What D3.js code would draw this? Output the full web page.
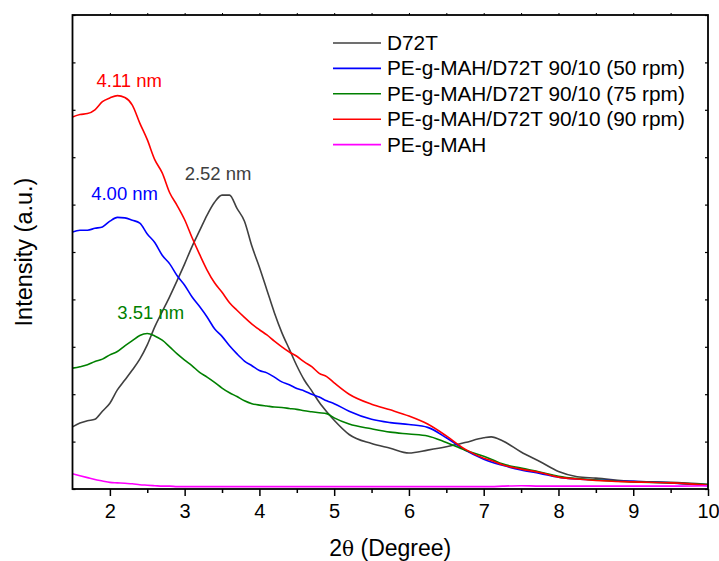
<!DOCTYPE html>
<html>
<head>
<meta charset="utf-8">
<script src="https://cdn.jsdelivr.net/npm/d3@7"></script>
<style>
  body { margin: 0; background: #fff; }
  text { font-family: "Liberation Sans", Arial, sans-serif; }
</style>
</head>
<body>
<svg id="chart" width="719" height="561"></svg>
<script>
// 2-theta grid (degrees)
var twoTheta = [1.5, 1.6, 1.7, 1.8, 1.9, 2.0, 2.1, 2.2, 2.3, 2.4, 2.5, 2.6, 2.7, 2.8, 2.9,
  3.0, 3.1, 3.2, 3.3, 3.4, 3.5, 3.6, 3.7, 3.8, 3.9, 4.0, 4.1, 4.2, 4.3, 4.4, 4.5, 4.6,
  4.7, 4.8, 4.9, 5.0, 5.2, 5.5, 5.75, 6.0, 6.25, 6.5, 6.75, 7.0, 7.1, 7.25, 7.5, 7.75,
  8.0, 8.25, 8.5, 9.0, 9.5, 10.0];

// intensities (a.u.)
var d72t = [1.31, 1.39, 1.44, 1.47, 1.64, 1.81, 2.09, 2.3, 2.51, 2.74, 3.04, 3.42, 3.74, 4.06, 4.4,
  4.75, 5.12, 5.45, 5.78, 6.05, 6.2, 6.2, 5.92, 5.65, 5.12, 4.68, 4.2, 3.72, 3.3, 2.95, 2.6, 2.3,
  2.07, 1.83, 1.63, 1.45, 1.15, 0.96, 0.86, 0.76, 0.82, 0.89, 0.98, 1.08, 1.1, 1.02, 0.78, 0.58,
  0.37, 0.26, 0.23, 0.16, 0.14, 0.1];
var rpm50 = [5.42, 5.46, 5.46, 5.5, 5.53, 5.65, 5.73, 5.72, 5.67, 5.61, 5.38, 5.2, 4.93, 4.75, 4.5,
  4.3, 4.05, 3.85, 3.63, 3.38, 3.22, 3.02, 2.85, 2.7, 2.6, 2.5, 2.45, 2.36, 2.26, 2.2, 2.12, 2.07,
  2.0, 1.94, 1.86, 1.8, 1.64, 1.47, 1.4, 1.36, 1.3, 1.08, 0.82, 0.63, 0.57, 0.5, 0.4, 0.33,
  0.25, 0.21, 0.19, 0.16, 0.13, 0.07];
var rpm75 = [2.55, 2.58, 2.62, 2.69, 2.74, 2.83, 2.9, 3.02, 3.13, 3.24, 3.28, 3.23, 3.14, 3.0, 2.85,
  2.72, 2.6, 2.46, 2.36, 2.25, 2.13, 2.03, 1.95, 1.86, 1.8, 1.77, 1.75, 1.73, 1.72, 1.7, 1.68, 1.65,
  1.63, 1.61, 1.59, 1.5, 1.37, 1.27, 1.2, 1.16, 1.12, 0.98, 0.82, 0.69, 0.63, 0.53, 0.44, 0.36,
  0.27, 0.22, 0.19, 0.15, 0.13, 0.09];
var rpm90 = [7.85, 7.9, 7.92, 8.0, 8.17, 8.25, 8.3, 8.26, 8.1, 7.72, 7.37, 6.95, 6.67, 6.25, 5.98,
  5.68, 5.3, 4.95, 4.62, 4.35, 4.15, 3.93, 3.77, 3.62, 3.48, 3.36, 3.25, 3.12, 3.0, 2.89, 2.8, 2.68,
  2.58, 2.44, 2.37, 2.24, 2.0, 1.79, 1.67, 1.54, 1.37, 1.12, 0.84, 0.65, 0.6, 0.51, 0.42, 0.35,
  0.25, 0.21, 0.18, 0.15, 0.13, 0.08];
var peMah = [0.32, 0.28, 0.24, 0.2, 0.17, 0.14, 0.13, 0.12, 0.11, 0.09, 0.08, 0.07, 0.06, 0.06, 0.05,
  0.05, 0.05, 0.05, 0.05, 0.05, 0.05, 0.05, 0.05, 0.05, 0.05, 0.05, 0.05, 0.05, 0.05, 0.05, 0.05, 0.05,
  0.05, 0.05, 0.05, 0.05, 0.05, 0.05, 0.05, 0.05, 0.05, 0.05, 0.05, 0.05, 0.05, 0.06, 0.07, 0.06,
  0.06, 0.06, 0.06, 0.06, 0.06, 0.07];

var seriesNames = ['D72T', 'PE-g-MAH/D72T 90/10 (50 rpm)', 'PE-g-MAH/D72T 90/10 (75 rpm)',
  'PE-g-MAH/D72T 90/10 (90 rpm)', 'PE-g-MAH'];
var seriesValues = [d72t, rpm50, rpm75, rpm90, peMah];
var seriesColors = ['#404040', '#0000ff', '#008000', '#ff0000', '#ff00ff'];

// peak annotations: text, x (2theta), y (a.u.), colour index
var peakLabels = ['4.11 nm', '4.00 nm', '2.52 nm', '3.51 nm'];
var peakX = [1.82, 1.75, 3.0, 2.1];
var peakY = [8.48, 6.1, 6.52, 3.59];
var peakColor = [3, 1, 0, 2];

var xTicks = [2, 3, 4, 5, 6, 7, 8, 9, 10];

var margin = {left: 72.5, top: 15, right: 11, bottom: 72};
var width = 719 - margin.left - margin.right;
var height = 561 - margin.top - margin.bottom;

var svg = d3.select('#chart');
var g = svg.append('g').attr('transform', 'translate(' + margin.left + ',' + margin.top + ')');

var x = d3.scaleLinear().domain([1.5, 10]).range([0, width]);
var y = d3.scaleLinear().domain([0, 10]).range([height, 0]);

var line = d3.line()
  .x(function(d) { return x(d[0]); })
  .y(function(d) { return y(d[1]); })
  .curve(d3.curveMonotoneX);

seriesValues.forEach(function(vals, i) {
  g.append('path')
    .datum(d3.zip(twoTheta, vals))
    .attr('fill', 'none')
    .attr('stroke', seriesColors[i])
    .attr('stroke-width', 1.6)
    .attr('stroke-linejoin', 'round')
    .attr('d', line);
});

// frame
g.append('rect')
  .attr('width', width).attr('height', height)
  .attr('fill', 'none').attr('stroke', '#000').attr('stroke-width', 1.8);

// bottom axis, major + minor
var bottomAxis = g.append('g').attr('transform', 'translate(0,' + height + ')');
bottomAxis.call(d3.axisBottom(x).tickValues(xTicks).tickSize(7).tickPadding(8).tickFormat(d3.format('d')));
bottomAxis.append('g')
  .call(d3.axisBottom(x).tickValues(d3.range(2.5, 10, 1)).tickSize(4).tickFormat(''));
bottomAxis.selectAll('.domain').remove();
bottomAxis.selectAll('line').attr('stroke', '#000').attr('stroke-width', 1.5);
bottomAxis.selectAll('text')
  .attr('font-size', 20)
  .attr('font-family', '"Liberation Sans", Arial, sans-serif')
  .attr('fill', '#000');

// top ticks (tiny, outward)
var topAxis = g.append('g');
topAxis.call(d3.axisTop(x).tickValues(d3.range(2, 10, 0.5)).tickSize(2).tickFormat(''));
topAxis.selectAll('.domain').remove();
topAxis.selectAll('line').attr('stroke', '#000');

// left and right inward ticks, no labels
var leftAxis = g.append('g');
leftAxis.call(d3.axisRight(y).ticks(10).tickSize(3).tickFormat(''));
leftAxis.selectAll('.domain').remove();
leftAxis.selectAll('line').attr('stroke', '#000').attr('stroke-width', 1.2);

var rightAxis = g.append('g').attr('transform', 'translate(' + width + ',0)');
rightAxis.call(d3.axisLeft(y).ticks(10).tickSize(3).tickFormat(''));
rightAxis.selectAll('.domain').remove();
rightAxis.selectAll('line').attr('stroke', '#000').attr('stroke-width', 1.2);

// axis titles
var xTitle = svg.append('text')
  .attr('x', margin.left + width / 2)
  .attr('y', 556)
  .attr('text-anchor', 'middle')
  .attr('font-size', 23);
xTitle.append('tspan').text('2');
xTitle.append('tspan').attr('font-family', '"DejaVu Serif", serif').attr('font-size', 20).text('\u03b8');
xTitle.append('tspan').text(' (Degree)');

svg.append('text')
  .attr('transform', 'translate(32,' + (margin.top + height / 2) + ') rotate(-90)')
  .attr('text-anchor', 'middle')
  .attr('font-size', 23.5)
  .text('Intensity (a.u.)');

// peak annotations
peakLabels.forEach(function(t, i) {
  g.append('text')
    .attr('x', x(peakX[i]))
    .attr('y', y(peakY[i]))
    .attr('fill', seriesColors[peakColor[i]])
    .attr('font-size', 18.5)
    .text(t);
});

// legend
var legend = svg.append('g').attr('transform', 'translate(333,43)');
seriesNames.forEach(function(name, i) {
  var row = legend.append('g').attr('transform', 'translate(0,' + (i * 25.4) + ')');
  row.append('line')
    .attr('x1', 0).attr('x2', 48)
    .attr('stroke', seriesColors[i]).attr('stroke-width', 1.6);
  row.append('text')
    .attr('x', 54).attr('y', 7)
    .attr('font-size', 20.8)
    .attr('fill', '#000')
    .text(name);
});
</script>
</body>
</html>
